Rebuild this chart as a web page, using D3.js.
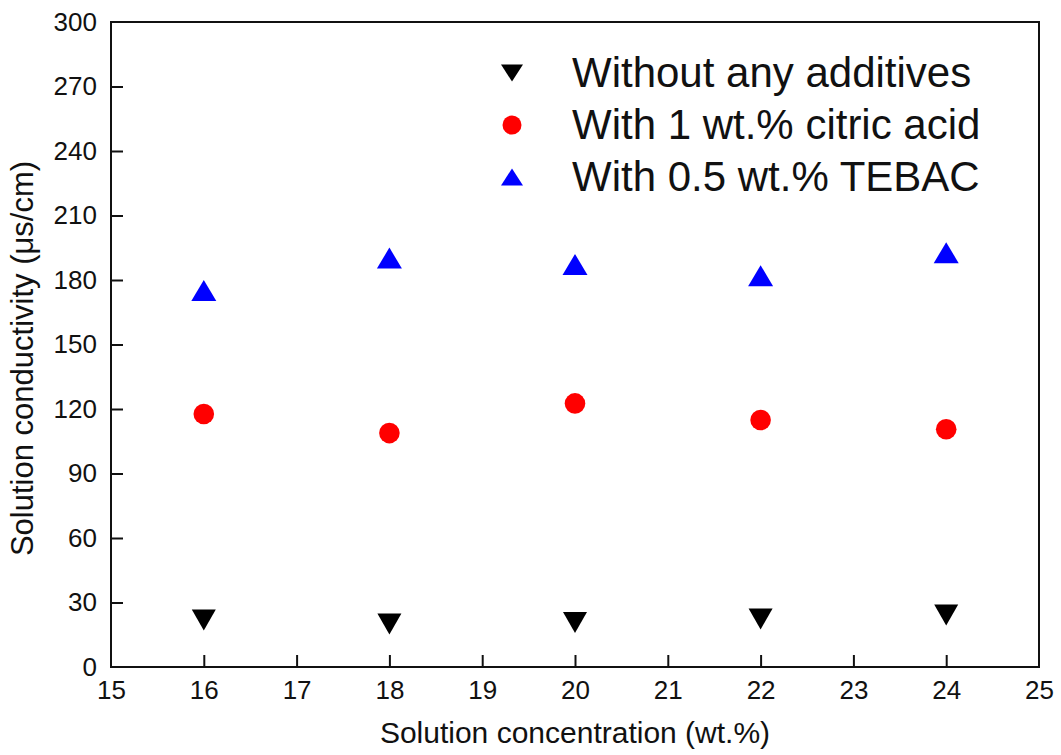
<!DOCTYPE html>
<html>
<head>
<meta charset="utf-8">
<script src="https://cdn.jsdelivr.net/npm/d3@7"></script>
<style>
  body { margin: 0; background: #fff; }
  text { font-family: "Liberation Sans", Arial, sans-serif; fill: #111; }
</style>
</head>
<body>
<div id="chart-area"></div>
<script>
// DATA -------------------------------------------------------------
var concentrations = [16, 18, 20, 22, 24];
var withoutAdditives = [21.9, 20.0, 20.7, 22.3, 24.2];
var withCitricAcid = [117.7, 108.8, 122.6, 114.9, 110.6];
var withTebac = [175.1, 190.2, 187.2, 182.0, 192.7];
var seriesNames = ["Without any additives", "With 1 wt.% citric acid", "With 0.5 wt.% TEBAC"];
var xTicks = [15, 16, 17, 18, 19, 20, 21, 22, 23, 24, 25];
var yTicks = [0, 30, 60, 90, 120, 150, 180, 210, 240, 270, 300];

var margin = { left: 111, right: 22, top: 22, bottom: 88 };
var width = 1061 - margin.left - margin.right;
var height = 755 - margin.top - margin.bottom;

var svg = d3.select("#chart-area").append("svg")
    .attr("width", 1061)
    .attr("height", 755);
var g = svg.append("g")
    .attr("transform", "translate(" + margin.left + "," + margin.top + ")");

// SCALES -----------------------------------------------------------
var x = d3.scaleLinear().domain([15, 25]).range([0, width]);
var y = d3.scaleLinear().domain([0, 300]).range([height, 0]);

// AXES -------------------------------------------------------------
var xAxis = g.append("g")
    .attr("transform", "translate(0," + height + ")")
    .call(d3.axisBottom(x).tickValues(xTicks).tickFormat(d3.format("d"))
        .tickSizeInner(-12).tickSizeOuter(0).tickPadding(14));
var yAxis = g.append("g")
    .call(d3.axisLeft(y).tickValues(yTicks).tickFormat(d3.format("d"))
        .tickSizeInner(-12).tickSizeOuter(0).tickPadding(14));

[xAxis, yAxis].forEach(a => {
    a.attr("font-size", null).attr("font-family", null);
    a.select(".domain").remove();
    a.selectAll("line").attr("stroke", "#111").attr("stroke-width", 2);
    a.selectAll("text").style("font-size", "26px").attr("fill", "#111");
});
// no ticks at the frame ends
xAxis.selectAll(".tick").filter(d => d === 15 || d === 25).select("line").remove();
yAxis.selectAll(".tick").filter(d => d === 0 || d === 300).select("line").remove();

// frame
g.append("rect")
    .attr("x", 0).attr("y", 0)
    .attr("width", width).attr("height", height)
    .attr("fill", "none").attr("stroke", "#111").attr("stroke-width", 2);

// axis titles
g.append("text")
    .attr("x", width / 2)
    .attr("y", height + 76)
    .attr("text-anchor", "middle")
    .style("font-size", "30px")
    .text("Solution concentration (wt.%)");
g.append("text")
    .attr("transform", "rotate(-90)")
    .attr("x", -(height / 2) - 14)
    .attr("y", -78)
    .attr("text-anchor", "middle")
    .style("font-size", "31px")
    .text("Solution conductivity (μs/cm)");

// MARKERS ----------------------------------------------------------
function triDown(w, h) {
    return "M" + (-w / 2) + "," + (-h / 2) + "L" + (w / 2) + "," + (-h / 2) + "L0," + (h / 2) + "Z";
}
function triUp(w, h) {
    return "M" + (-w / 2) + "," + (h / 2) + "L" + (w / 2) + "," + (h / 2) + "L0," + (-h / 2) + "Z";
}

g.selectAll(".black").data(withoutAdditives).enter().append("path")
    .attr("class", "black")
    .attr("d", triDown(24, 21))
    .attr("fill", "#000")
    .attr("transform", (d, i) => "translate(" + x(concentrations[i]) + "," + y(d) + ")");

g.selectAll(".red").data(withCitricAcid).enter().append("circle")
    .attr("class", "red")
    .attr("cx", (d, i) => x(concentrations[i]))
    .attr("cy", d => y(d))
    .attr("r", 10.3)
    .attr("fill", "#ff0000");

g.selectAll(".blue").data(withTebac).enter().append("path")
    .attr("class", "blue")
    .attr("d", triUp(25, 21))
    .attr("fill", "#0000ff")
    .attr("transform", (d, i) => "translate(" + x(concentrations[i]) + "," + y(d) + ")");

// LEGEND -----------------------------------------------------------
var legend = svg.append("g").attr("transform", "translate(512,73)");
var legendSymbols = [
    s => s.append("path").attr("d", triDown(22, 17)).attr("fill", "#000"),
    s => s.append("circle").attr("r", 9.5).attr("fill", "#ff0000"),
    s => s.append("path").attr("d", triUp(22, 17)).attr("fill", "#0000ff")
];
seriesNames.forEach((name, i) => {
    var row = legend.append("g").attr("transform", "translate(0," + (i * 52) + ")");
    legendSymbols[i](row);
    row.append("text")
        .attr("x", 60)
        .attr("y", 14)
        .style("font-size", "42px")
        .text(name);
});
</script>
</body>
</html>
